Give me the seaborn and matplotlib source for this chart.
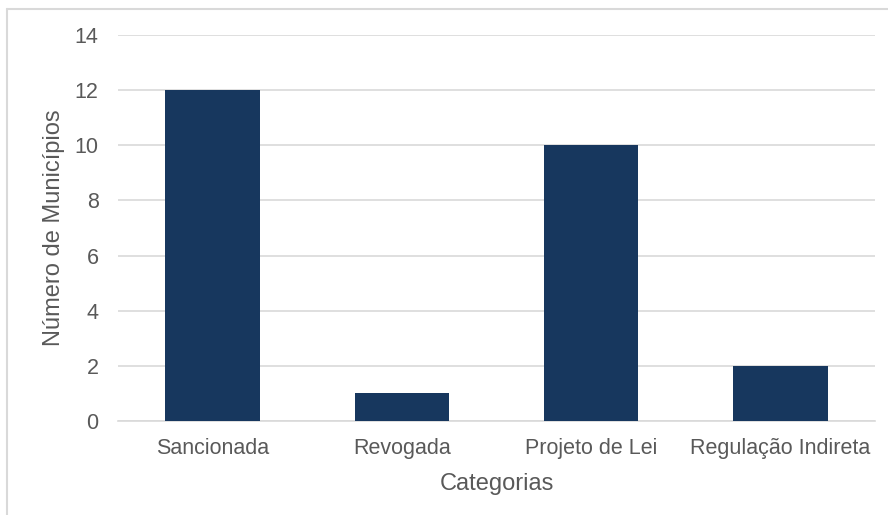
import matplotlib
matplotlib.use('Agg')
import matplotlib.pyplot as plt
from matplotlib.lines import Line2D
import seaborn as sns
import pandas as pd

# Chart data
categorias = ['Sancionada', 'Revogada', 'Projeto de Lei', 'Regulação Indireta']
municipios = [12, 1, 10, 2]

BAR_COLOR = '#17375E'
TEXT_COLOR = '#595959'
GRID_COLOR = '#D9D9D9'
BORDER_COLOR = '#D9D9D9'

sns.set_theme(style='white')
plt.rcParams['font.family'] = ['Liberation Sans', 'DejaVu Sans']

df = pd.DataFrame({'Categorias': categorias, 'Municipios': municipios})

fig = plt.figure(figsize=(8.88, 5.15), dpi=100)
fig.patch.set_facecolor('white')
ax = fig.add_axes([0.1329, 0.1825, 0.8525, 0.7495])

sns.barplot(data=df, x='Categorias', y='Municipios', color=BAR_COLOR,
            width=0.5, saturation=1, linewidth=0, ax=ax, zorder=3)

ax.set_ylim(0, 14)
ax.set_yticks(range(0, 15, 2))
ax.set_xlim(-0.5, len(categorias) - 0.5)
ax.yaxis.grid(True, color=GRID_COLOR, linewidth=1.2, zorder=0)
ax.set_axisbelow(True)
for side in ['top', 'right', 'left']:
    ax.spines[side].set_visible(False)
ax.spines['bottom'].set_color(GRID_COLOR)
ax.spines['bottom'].set_linewidth(1.2)

ax.tick_params(axis='y', length=0, pad=14, labelsize=15.5, labelcolor=TEXT_COLOR)
ax.tick_params(axis='x', length=0, pad=12, labelsize=15.5, labelcolor=TEXT_COLOR)

ax.set_xlabel('Categorias', fontsize=17, color=TEXT_COLOR, labelpad=10)
ax.set_ylabel('Número de Municípios', fontsize=17, color=TEXT_COLOR, labelpad=7)

# outer chart border (top and left visible)
fig.add_artist(Line2D([0.0084, 1.0], [0.9816, 0.9816], color=BORDER_COLOR,
                      linewidth=1.5, transform=fig.transFigure))
fig.add_artist(Line2D([0.0084, 0.0084], [0.0, 0.9816], color=BORDER_COLOR,
                      linewidth=1.5, transform=fig.transFigure))

fig.savefig('out.png', dpi=100, facecolor='white')
